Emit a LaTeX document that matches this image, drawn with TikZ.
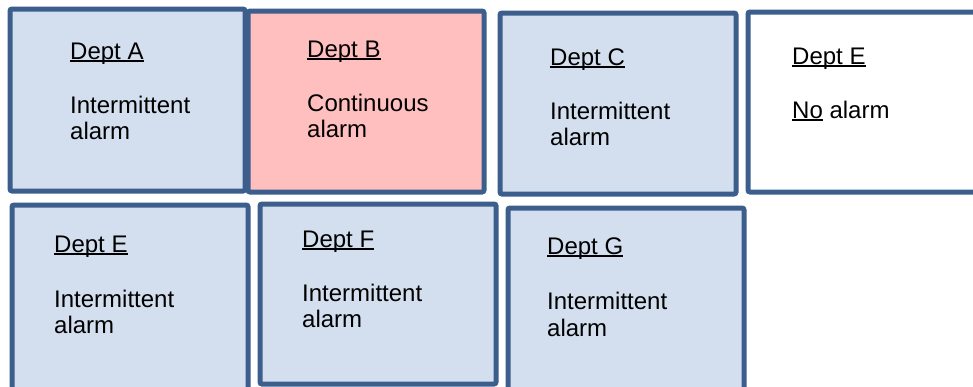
\documentclass[tikz,border=0pt]{standalone}
\usepackage{fontspec}
\setmainfont{Liberation Sans}
\definecolor{boxblue}{HTML}{D3DFEE}
\definecolor{boxpink}{HTML}{FFBFBF}
\definecolor{boxline}{HTML}{3B5E8C}
\newcommand{\myul}[1]{\setbox0\hbox{#1}\rlap{\rule[-2.9pt]{\wd0}{1.6pt}}\box0\relax}
\tikzset{
  deptbox/.style={draw=boxline, line width=5pt, rounded corners=2pt},
  bluebox/.style={deptbox, fill=boxblue},
  pinkbox/.style={deptbox, fill=boxpink},
  whitebox/.style={deptbox, fill=white},
  txt/.style={anchor=base west, inner sep=0pt, text=black, font=\fontsize{24}{26}\selectfont}
}
\begin{document}
\begin{tikzpicture}[x=1pt, y=-1pt]
\useasboundingbox (0,0) rectangle (973,386);
\clip (0,0) rectangle (973,386);
% top row
\draw[bluebox] (10,9) rectangle (245,191);
\draw[pinkbox] (248,11) rectangle (484,192);
\draw[bluebox] (500,13) rectangle (736,194);
\draw[whitebox] (748,12) rectangle (990,192);
% bottom row
\draw[bluebox] (12,205) rectangle (248,390);
\draw[bluebox] (260,204) rectangle (496,384);
\draw[bluebox] (508,208) rectangle (744,395);
% texts
\node[txt] (ah) at (70,59) {\myul{Dept A}};
\node[txt] (a1) at (70,113) {Intermittent};
\node[txt] (a2) at (70,139) {alarm};
\node[txt] (bh) at (307,57) {\myul{Dept B}};
\node[txt] (b1) at (307,111) {Continuous};
\node[txt] (b2) at (307,137) {alarm};
\node[txt] (ch) at (550,65) {\myul{Dept C}};
\node[txt] (c1) at (550,119) {Intermittent};
\node[txt] (c2) at (550,145) {alarm};
\node[txt] (eh) at (792,64) {\myul{Dept E}};
\node[txt] (e1) at (792,118) {\myul{No} alarm};
\node[txt] (fh0) at (54,252) {\myul{Dept E}};
\node[txt] (f01) at (54,307) {Intermittent};
\node[txt] (f02) at (54,333) {alarm};
\node[txt] (fh) at (302,247) {\myul{Dept F}};
\node[txt] (f1) at (302,301) {Intermittent};
\node[txt] (f2) at (302,327) {alarm};
\node[txt] (gh) at (547,254) {\myul{Dept G}};
\node[txt] (g1) at (547,309) {Intermittent};
\node[txt] (g2) at (547,336) {alarm};
\end{tikzpicture}
\end{document}
